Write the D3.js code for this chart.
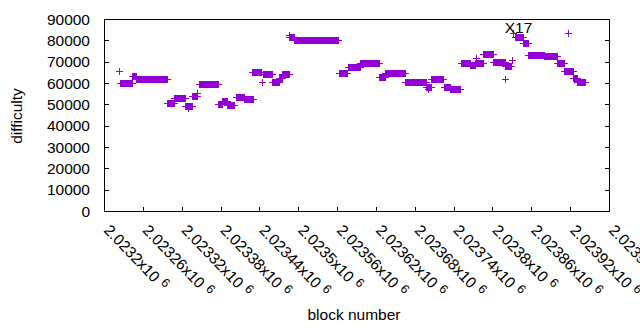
<!DOCTYPE html>
<html>
<head>
<meta charset="utf-8">
<script src="https://cdn.jsdelivr.net/npm/d3@7"></script>
<style>
  html, body { margin: 0; padding: 0; background: #fff; }
  text { font-family: "Liberation Sans", Arial, sans-serif; }
</style>
</head>
<body>
<svg id="chart" width="640" height="330"></svg>
<script>
// Runs of blocks sharing the same difficulty (single points have start == end)
const blockStart = [2023223,2023225,2023243,2023250,2023298,2023308,2023325,2023330,2023336,2023344,
  2023346,2023376,2023382,2023390,2023404,2023416,2023429,2023444,2023445,2023460,
  2023470,2023475,2023486,2023486,2023494,2023563,2023577,2023595,2023624,2023634,
  2023665,2023698,2023701,2023705,2023725,2023734,2023751,2023766,2023773,2023774,
  2023786,2023801,2023819,2023820,2023830,2023832,2023835,2023847,2023855,2023879,
  2023900,2023911,2023916,2023924,2023931];
const blockEnd = [2023223,2023243,2023250,2023298,2023308,2023325,2023336,2023330,2023344,2023344,
  2023376,2023382,2023390,2023401,2023416,2023430,2023443,2023444,2023460,2023470,
  2023475,2023485,2023486,2023494,2023562,2023576,2023595,2023624,2023634,2023665,
  2023698,2023705,2023701,2023724,2023734,2023750,2023766,2023773,2023786,2023774,
  2023801,2023819,2023819,2023828,2023830,2023832,2023847,2023855,2023879,2023900,
  2023910,2023924,2023916,2023931,2023943];
const difficulty = [65600,60200,63300,61700,50800,52800,49200,48200,53800,55200,
  59400,50200,51600,49500,53400,52300,65200,60600,64300,60600,
  62200,64400,82500,81600,80000,64500,67400,69200,63000,64500,
  60700,58000,57000,61800,58300,57000,69400,68300,69500,71600,
  73500,69800,61700,68000,70600,83600,81700,78600,73100,72600,
  69500,65800,83600,62200,60600];

const xTicks = [2023200,2023260,2023320,2023380,2023440,2023500,2023560,2023620,2023680,2023740,2023800,2023860,2023920,2023980];
const xTickLabels = ["2.0232","2.02326","2.02332","2.02338","2.02344","2.0235","2.02356","2.02362","2.02368","2.02374","2.0238","2.02386","2.02392","2.02398"];
const yTicks = [0,10000,20000,30000,40000,50000,60000,70000,80000,90000];

const annotationText = "X17";
const annotationBlock = 2023831;
const annotationValue = 84000;

const color = "#9400d3";
const pL = 104, pR = 609, pT = 19, pB = 211;
const svg = d3.select("#chart");

const x = d3.scaleLinear().domain([2023200, 2023980]).range([pL, pR]);
const y = d3.scaleLinear().domain([0, 90000]).range([pB, pT]);

const runs = blockStart.map((s, i) => ({ s, e: blockEnd[i], v: difficulty[i] }));

const g = svg.append("g").attr("shape-rendering", "crispEdges");
// vertical arms merged into a filled band
g.selectAll("rect.run").data(runs).enter().append("rect")
  .attr("x", d => Math.round(x(d.s)))
  .attr("y", d => Math.round(y(d.v)) - 3)
  .attr("width", d => Math.max(1, Math.round(x(d.e)) - Math.round(x(d.s)) + 1))
  .attr("height", 7)
  .attr("fill", color);
// horizontal arms
g.selectAll("line.arm").data(runs).enter().append("line")
  .attr("x1", d => Math.round(x(d.s)) - 3)
  .attr("x2", d => Math.round(x(d.e)) + 4)
  .attr("y1", d => Math.round(y(d.v)) + 0.5)
  .attr("y2", d => Math.round(y(d.v)) + 0.5)
  .attr("stroke", color).attr("stroke-width", 1);

// Axes frame
const axisG = svg.append("g").attr("shape-rendering", "crispEdges").attr("stroke", "#000").attr("stroke-width", 1);
axisG.append("rect").attr("x", pL + 0.5).attr("y", pT + 0.5)
  .attr("width", pR - pL).attr("height", pB - pT).attr("fill", "none");

// y ticks (left and mirrored right)
yTicks.forEach(t => {
  const yy = Math.round(y(t)) + 0.5;
  axisG.append("line").attr("x1", pL).attr("x2", pL + 5).attr("y1", yy).attr("y2", yy);
  axisG.append("line").attr("x1", pR - 4).attr("x2", pR + 1).attr("y1", yy).attr("y2", yy);
});
svg.append("g").selectAll("text").data(yTicks).enter().append("text")
  .attr("x", 90).attr("y", d => y(d) + 5.5)
  .attr("text-anchor", "end").attr("font-size", "15.5px").attr("fill", "#000")
  .text(d => d);

// x ticks
xTicks.forEach(t => {
  const xx = Math.round(x(t)) + 0.5;
  axisG.append("line").attr("x1", xx).attr("x2", xx).attr("y1", pB - 4).attr("y2", pB + 1);
});
const xl = svg.append("g").selectAll("text").data(xTicks).enter().append("text")
  .attr("transform", d => `translate(${x(d) - 1},${231}) rotate(46)`)
  .attr("font-size", "15.5px").attr("fill", "#000");
xl.append("tspan").text((d, i) => xTickLabels[i] + "x10");
xl.append("tspan").attr("dx", 5).attr("dy", -5).attr("font-size", "12.5px").text("6");

// axis titles
svg.append("text").attr("x", 354).attr("y", 320).attr("text-anchor", "middle")
  .attr("font-size", "15.5px").attr("fill", "#000").text("block number");
svg.append("text").attr("transform", "translate(22,116) rotate(-90)").attr("text-anchor", "middle")
  .attr("font-size", "15.5px").attr("fill", "#000").text("difficulty");

// annotation
svg.append("text").attr("x", x(annotationBlock) + 6).attr("y", y(annotationValue) + 1)
  .attr("text-anchor", "middle").attr("font-size", "15.5px").attr("fill", "#000")
  .text(annotationText);
</script>
</body>
</html>
